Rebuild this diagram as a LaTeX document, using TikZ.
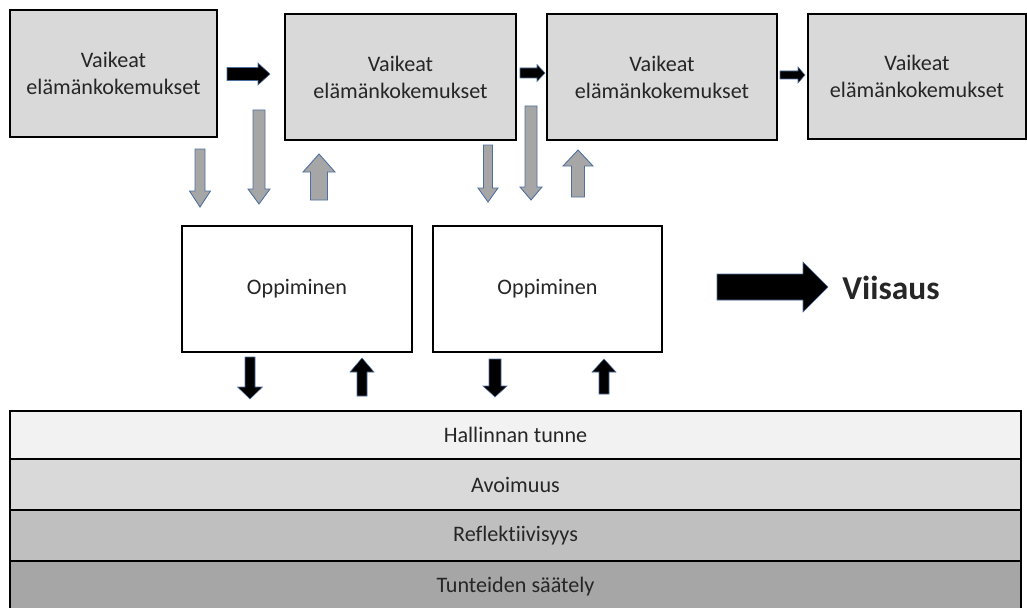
\documentclass[tikz,border=0pt]{standalone}
\usepackage{fontspec}
\setmainfont{Carlito}[Ligatures={NoCommon}]
\usepackage{tikz}

\definecolor{boxgray}{HTML}{D9D9D9}
\definecolor{arrgray}{HTML}{A6A6A6}
\definecolor{arredge}{HTML}{4F6FA0}
\definecolor{txtgray}{HTML}{262626}

\tikzset{
  kokemus/.style={draw=black, line width=1.4pt, fill=boxgray, align=center,
    minimum height=2.52cm, text=txtgray, font=\fontsize{12.6}{15.3}\selectfont},
  oppi/.style={draw=black, line width=1.4pt, fill=white,
    minimum width=4.6cm, minimum height=2.52cm, text=txtgray, font=\fontsize{12.6}{15.3}\selectfont},
  kerros/.style={draw=black, line width=1.1pt, minimum width=20.22cm,
    minimum height=1.02cm, text=txtgray, font=\fontsize{12.6}{15.3}\selectfont},
  harmaa/.style={fill=arrgray, draw=arredge, line width=0.5pt},
  musta/.style={fill=black, draw=arredge, line width=0.3pt}
}

\begin{document}
\begin{tikzpicture}[x=0.02cm,y=-0.02cm]
\useasboundingbox (0,0) rectangle (1027,608);

% kokemukset
\node[kokemus, minimum width=4.14cm, minimum height=2.54cm] (k1) at (113.5,73.5) {Vaikeat\\elämänkokemukset};
\node[kokemus, minimum width=4.62cm] (k2) at (400.5,77) {Vaikeat\\elämänkokemukset};
\node[kokemus, minimum width=4.6cm] (k3) at (662,77) {Vaikeat\\elämänkokemukset};
\node[kokemus, minimum width=4.36cm, minimum height=2.5cm] (k4) at (917,76.5) {Vaikeat\\elämänkokemukset};

% oppiminen
\node[oppi] (o1) at (297,289) {Oppiminen};
\node[oppi, minimum width=4.58cm] (o2) at (547.5,289) {Oppiminen};

% kerrokset
\node[kerros, fill=black!5, minimum height=0.96cm] (hallinta) at (515.5,435) {Hallinnan tunne};
\node[kerros, fill=black!15] (avoimuus) at (515.5,484.5) {Avoimuus};
\node[kerros, fill=black!25] (reflektio) at (515.5,535.5) {Reflektiivisyys};
\node[kerros, fill=black!35] (tunteet) at (515.5,586.5) {Tunteiden säätely};

\node[font=\fontsize{19}{22}\selectfont\bfseries, text=txtgray] (viisaus) at (891,288) {Viisaus};

% pystynuolet: x / tyvi / karki / varsi / kanta / karjen alku
\foreach \x/\a/\b/\s/\h/\c in {200/149/207/5/10.5/191, 259/110/204/6/11/189,
    319/200/154/8.5/16/172, 488/145/202/4.5/10/188, 531/106/200/6/11/187,
    578/197/150/6.5/15/166}
  \draw[harmaa] (\x-\s,\a) -- (\x+\s,\a) -- (\x+\s,\c) -- (\x+\h,\c) -- (\x,\b)
    -- (\x-\h,\c) -- (\x-\s,\c) -- cycle;

\foreach \x/\a/\b/\s/\h/\c in {250/357/399/5/12.5/387, 362/396/358/5/12/372,
    495/359/397/6/12/386, 604/394/359/5/12/372}
  \draw[musta] (\x-\s,\a) -- (\x+\s,\a) -- (\x+\s,\c) -- (\x+\h,\c) -- (\x,\b)
    -- (\x-\h,\c) -- (\x-\s,\c) -- cycle;

% vaakanuolet
\foreach \y/\a/\b/\s/\h/\c in {74/227/270/6.5/11/258, 73/520/545/5/8.5/537,
    75/780/805/4/8/798, 287/717/828/13/25/803}
  \draw[musta] (\a,\y-\s) -- (\a,\y+\s) -- (\c,\y+\s) -- (\c,\y+\h) -- (\b,\y)
    -- (\c,\y-\h) -- (\c,\y-\s) -- cycle;
\end{tikzpicture}
\end{document}
